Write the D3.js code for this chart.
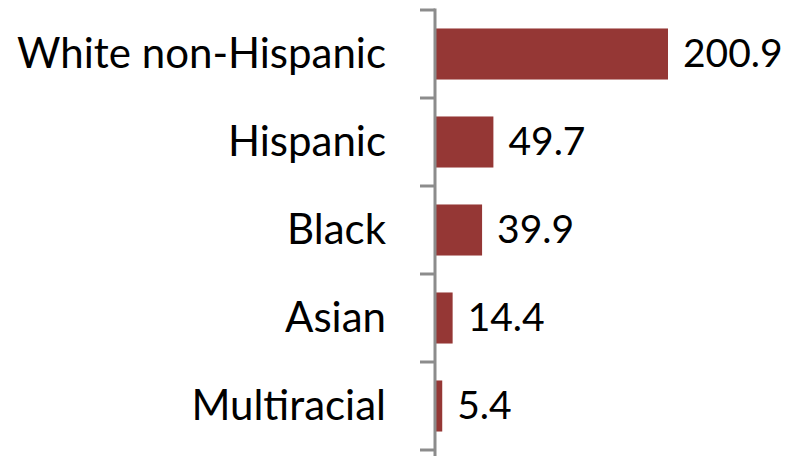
<!DOCTYPE html>
<html>
<head>
<meta charset="utf-8">
<script src="https://cdn.jsdelivr.net/npm/d3@7"></script>
<style>
  html, body { margin: 0; padding: 0; background: #fff; }
  svg { display: block; }
  text { font-family: Lato, "Open Sans", sans-serif; fill: #000; }
</style>
</head>
<body>
<svg id="chart" width="792" height="456"></svg>
<script>
const categories = ["White non-Hispanic", "Hispanic", "Black", "Asian", "Multiracial"];
const values = [200.9, 49.7, 39.9, 14.4, 5.4];
const valueLabels = ["200.9", "49.7", "39.9", "14.4", "5.4"];

const chartWidth = 792, chartHeight = 456;
const axisX = 435;
const plotTop = 10, bandStep = 88;

const svg = d3.select("#chart");

const y = d3.scaleBand()
  .domain(categories)
  .range([plotTop, plotTop + bandStep * categories.length])
  .paddingInner(0.42)
  .paddingOuter(0.21);

const x = d3.scaleLinear()
  .domain([0, 200.9])
  .range([axisX, axisX + 232]);

// bars
svg.append("g")
  .selectAll("rect")
  .data(values)
  .join("rect")
  .attr("x", x(0) + 1)
  .attr("y", (d, i) => y(categories[i]))
  .attr("width", d => x(d) - x(0))
  .attr("height", y.bandwidth())
  .attr("fill", "#953735");

// category axis with tick marks between categories
const axisG = svg.append("g").attr("stroke", "#8c8c8c").attr("stroke-width", 3);
axisG.append("line")
  .attr("x1", axisX).attr("x2", axisX)
  .attr("y1", plotTop - 1.5).attr("y2", chartHeight);
const boundaries = d3.range(categories.length + 1).map(i => plotTop + i * bandStep);
axisG.selectAll("line.tick")
  .data(boundaries)
  .join("line")
  .attr("class", "tick")
  .attr("x1", axisX - 15).attr("x2", axisX)
  .attr("y1", d => d).attr("y2", d => d);

// category labels
svg.append("g")
  .selectAll("text")
  .data(categories)
  .join("text")
  .attr("x", 386)
  .attr("y", d => y(d) + y.bandwidth() / 2)
  .attr("dy", "0.33em")
  .attr("text-anchor", "end")
  .attr("font-size", 42)
  .text(d => d);

// value labels
svg.append("g")
  .selectAll("text")
  .data(values)
  .join("text")
  .attr("x", d => x(d) + 16)
  .attr("y", (d, i) => y(categories[i]) + y.bandwidth() / 2)
  .attr("dy", "0.34em")
  .attr("font-size", 39)
  .text((d, i) => valueLabels[i]);
</script>
</body>
</html>
